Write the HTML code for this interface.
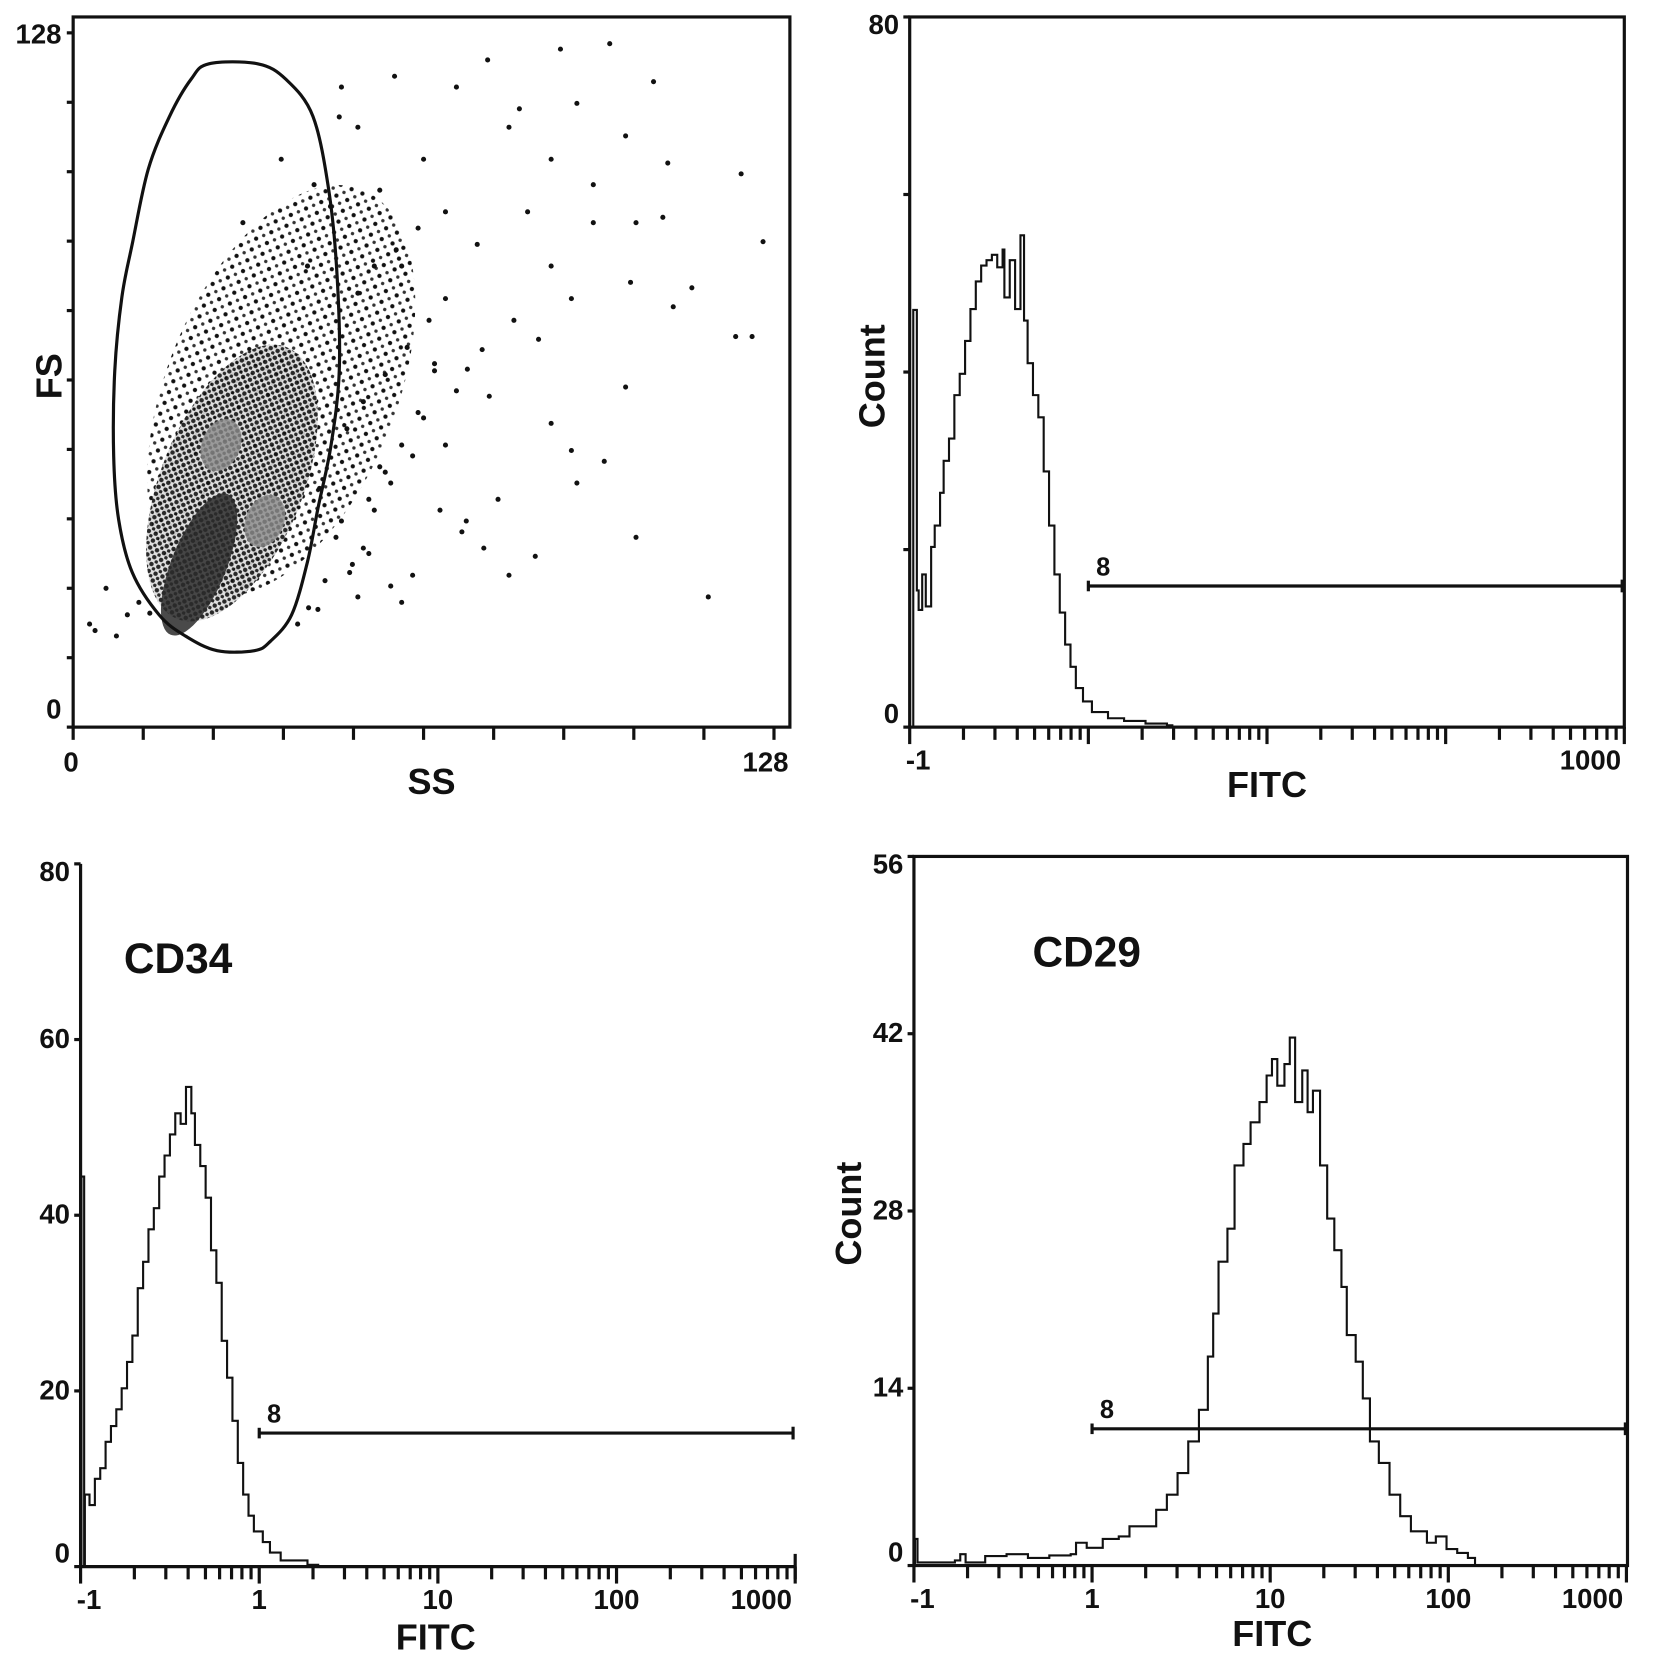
<!DOCTYPE html>
<html><head><meta charset="utf-8"><style>
html,body{margin:0;padding:0;background:#fff}
svg{display:block}
text{font-family:"Liberation Sans",Arial,sans-serif;font-weight:bold;fill:#111}
</style></head><body>
<svg id="fig" width="1654" height="1662" viewBox="0 0 1560 1568" preserveAspectRatio="none" xmlns="http://www.w3.org/2000/svg">
<defs>
<pattern id="dotsLight" width="11" height="11" patternUnits="userSpaceOnUse"><circle cx="2.5" cy="2.5" r="2" fill="#111"/><circle cx="8" cy="8" r="1.6" fill="#333"/></pattern>
<pattern id="dotsDense" width="7" height="7" patternUnits="userSpaceOnUse"><rect width="7" height="7" fill="#ddd"/><circle cx="2" cy="2" r="2.1" fill="#111"/><circle cx="5.5" cy="5.5" r="1.7" fill="#111"/></pattern>
</defs>
<g id="panelA"></g>
<g id="panelB"></g>
<g id="panelC"></g>
<g id="panelD"></g>
</svg>
<script>
// ---------- data ----------
const ssTicks=[0,12.8,25.6,38.4,51.2,64,76.8,89.6,102.4,115.2,128];
const fsTicks=[0,12.8,25.6,38.4,51.2,64,76.8,89.6,102.4,115.2,128];
const axisLabelsA=["0","128"];
const dotSS=[49,58.7,75.7,89,98,81.5,92,106,122,126,121,124,113,109.6,108.6,102.8,101.8,97,92,102.8,116,60,79.6,84.4,87.3,91,100.9,71.8,77.6,70,79.6,87.3,95,95,87.3,80.5,85,74.7,68,64,56,52,48.6,60,68,63,68,56,54,50.5,44.7,66,73.8,83,91,100.9,107.7,38,31,42.8,6,4,7.9,9.9,55,58,62,50,53,57,61,65,52,55,59,63,48,51,54,57,60,64,70,66,45,49,53,72,76,62,58,52,46,43,41,3,12,14,67,71,75,44,47];
const dotFS=[118,120,123,125,126,114,115,119,102,89.5,72,72,81,77.5,104,93,82,49,45,35,24,23,28,31.5,56,51,62.7,38,42,118,110.6,104.7,100,93,85,75,71.5,69.6,95,104.7,99,110.6,112.5,85,79,58,52,48,32,28.5,21.7,65.7,89,95,79,109,94,104.7,93,85,25.6,17.8,16.8,20.7,40,45,50,55,60,65,70,75,80,85,88,92,35,30,42,47,52,57,62,67,44,38,33,66,61,28,26,24,27,22,19,19,23,21,40,36,33,100,96];
const cloudSS=[38,29,23,27,35];
const cloudFS=[62,45,30,52,38];
const cloudRX=[21,13,5,3.5,3.5];
const cloudRY=[40,27,14,5,5];
const cloudLevel=[0,1,2,3,3];
const gateSS=[24.8,33.7,38.9,43.8,46.7,48.2,48.6,47.1,44.7,42.8,39.9,36,33.1,26.3,20.5,15.7,10.8,8.3,7.4,7.6,8.9,10.8,13.7,17.6,21.5];
const gateFS=[122.3,122.3,119.4,112.6,98.9,83.3,65.7,52,40.3,30.5,20.7,15.8,14.1,14.1,16.8,20.7,28.5,38.3,50,65.7,79.3,89.1,102.8,112.6,119.4];

const decadeLabels=["-1","1","10","100","1000"];
const histB_d=[0.01,0.02,0.04,0.05,0.07,0.09,0.12,0.14,0.17,0.19,0.22,0.25,0.28,0.31,0.34,0.37,0.4,0.43,0.46,0.49,0.52,0.53,0.56,0.59,0.62,0.64,0.66,0.69,0.72,0.75,0.78,0.81,0.84,0.87,0.9,0.93,0.97,1.02,1.11,1.2,1.32,1.44,1.47];
const histB_c=[0,47,15.4,13.2,17.2,13.6,20.3,22.7,26.4,30,32.5,37.4,39.8,43.5,47.1,50.2,52,52.6,53.2,51.8,53.8,48.4,52.6,47.1,55.4,45.8,41,37.4,34.9,28.8,22.7,17.2,12.9,9.3,6.8,4.4,2.9,1.7,1,0.7,0.4,0.2,0];
const histC_d=[0,0.005,0.02,0.024,0.05,0.08,0.11,0.14,0.17,0.2,0.23,0.26,0.29,0.32,0.35,0.38,0.41,0.44,0.47,0.5,0.53,0.56,0.59,0.62,0.64,0.67,0.7,0.73,0.76,0.79,0.82,0.85,0.88,0.91,0.94,0.97,1.02,1.06,1.12,1.27,1.33];
const histC_c=[0,44.4,0,8.2,7,10,11.2,14.2,16,17.9,20.3,23.3,26.3,31.7,34.7,38.4,40.8,44.4,46.8,49.2,51.6,50.4,54.6,51.6,48,45.6,42,36,32.3,25.7,21.5,16.6,11.8,8.2,5.8,4,2.8,1.6,0.7,0.2,0];
const histD_d=[0,0.006,0.02,0.23,0.26,0.29,0.4,0.52,0.64,0.76,0.88,0.91,0.97,1.06,1.15,1.21,1.3,1.36,1.42,1.48,1.54,1.6,1.65,1.68,1.71,1.76,1.8,1.85,1.89,1.94,1.98,2.01,2.04,2.08,2.11,2.14,2.18,2.21,2.24,2.28,2.32,2.36,2.4,2.43,2.48,2.52,2.56,2.61,2.67,2.73,2.79,2.88,2.93,2.99,3.05,3.11,3.15];
const histD_c=[0,2.1,0.25,0.4,0.9,0.25,0.75,0.9,0.6,0.8,0.9,1.8,1.4,2.1,2.3,3.1,3.1,4.4,5.6,7.3,9.8,12.3,16.5,19.9,24,26.6,31.6,33.3,35,36.6,38.7,40,37.9,39.6,41.7,36.6,39.1,35.8,37.5,31.6,27.4,24.9,22,18.2,16.1,13.2,9.8,8.1,5.6,3.9,2.7,1.8,2.3,1.3,1,0.6,0];
const yTicksB=[0,20,40,60,80];
const yTicksC=[0,20,40,60,80];
const yTicksD=[0,14,28,42,56];
const gateLevelB=15.9, gateLevelC=15.2, gateLevelD=10.8;

// ---------- helpers ----------
const NS="http://www.w3.org/2000/svg";
function mk(parent,tag,attrs,txt){const e=document.createElementNS(NS,tag);for(const k in attrs)e.setAttribute(k,attrs[k]);if(txt!==undefined)e.textContent=txt;parent.appendChild(e);return e;}
function line(p,x1,y1,x2,y2,w){return mk(p,"line",{x1,y1,x2,y2,stroke:"#111","stroke-width":w||2.5});}
function smoothClosed(pts){
 const n=pts.length;let d=`M${pts[0][0]},${pts[0][1]}`;
 for(let i=0;i<n;i++){const p0=pts[(i-1+n)%n],p1=pts[i],p2=pts[(i+1)%n],p3=pts[(i+2)%n];
  const c1=[p1[0]+(p2[0]-p0[0])/6,p1[1]+(p2[1]-p0[1])/6],c2=[p2[0]-(p3[0]-p1[0])/6,p2[1]-(p3[1]-p1[1])/6];
  d+=`C${c1[0]},${c1[1]} ${c2[0]},${c2[1]} ${p2[0]},${p2[1]}`;}
 return d+"Z";
}

// ---------- panel A ----------
(function(){
 const g=document.getElementById("panelA");
 const L=69,R=745,T=16,B=686,X0=69,X1=730,Y1=31;
 const sx=v=>X0+v*(X1-X0)/128, sy=v=>B-v*(B-Y1)/128;
 const frame=mk(g,"rect",{x:L,y:T,width:R-L,height:B-T,fill:"none",stroke:"#111","stroke-width":3});
 
 
 ssTicks.forEach(t=>{const l=line(g,sx(t),B,sx(t),B+12,3);
  
  });
 fsTicks.forEach(t=>{const l=line(g,L-6,sy(t),L,sy(t),3);
  
  });
 const fills=["url(#dotsLight)","url(#dotsDense)","#2a2a2a","#8a8a8a"];
 const ops=[1,0.9,0.85,0.8];
 cloudSS.forEach((c,i)=>{
  const e=mk(g,"ellipse",{cx:sx(c),cy:sy(cloudFS[i]),rx:cloudRX[i]*5.164,ry:cloudRY[i]*5.117,fill:fills[cloudLevel[i]],opacity:ops[cloudLevel[i]],transform:`rotate(22 ${sx(c)} ${sy(cloudFS[i])})`});
  
  
 });
 dotSS.forEach((s,i)=>{
  const d=mk(g,"circle",{cx:sx(s),cy:sy(dotFS[i]),r:2.4,fill:"#111"});
  
  
 });
 const gpts=gateSS.map((s,i)=>[sx(s),sy(gateFS[i])]);
 const gate=mk(g,"path",{d:smoothClosed(gpts),fill:"none",stroke:"#111","stroke-width":3});
 
 
 const t1=mk(g,"text",{x:58,y:41,"font-size":26,"text-anchor":"end"},"128");
 
 
 const t2=mk(g,"text",{x:58,y:678,"font-size":26,"text-anchor":"end"},"0");
 
 
 const t3=mk(g,"text",{x:67,y:728,"font-size":26,"text-anchor":"middle"},axisLabelsA[0]);
 
 
 const t4=mk(g,"text",{x:722,y:728,"font-size":26,"text-anchor":"middle"},axisLabelsA[1]);
 
 
 const xt=mk(g,"text",{x:407,y:749,"font-size":34,"text-anchor":"middle"},"SS");
 
 
 const yt=mk(g,"text",{x:0,y:0,"font-size":34,"text-anchor":"middle",transform:"translate(58 355) rotate(-90)"},"FS");
 
 
})();

// ---------- histogram builder ----------
function hist(id,o){
 const g=document.getElementById(id);
 const sx=d=>o.x0+d*o.dec, sy=c=>o.B-c*(o.B-o.T)/o.ymax;
 if(o.box){const f=mk(g,"rect",{x:o.x0,y:o.T,width:o.R-o.x0,height:o.B-o.T,fill:"none",stroke:"#111","stroke-width":3});
  
  }
 else{const a=line(g,o.x0,o.T,o.x0,o.B,3);
  
  
  const b=line(g,o.x0,o.B,o.R,o.B,3);
  
  
  const e=line(g,o.R,o.B-12,o.R,o.B+12,3);
  
  }
 for(let dcd=0;dcd<4;dcd++){for(let k=1;k<=9;k++){const x=sx(dcd+Math.log10(k));
  const l=line(g,x,o.B,x,o.B+(k===1?16:12),3);
  
  }}
 const le=line(g,sx(4),o.B,sx(4),o.B+16,3);
 
 
 decadeLabels.forEach((lab,i)=>{
  if(o.onlyEnds&&i!==0&&i!==4)return;
  let x=sx(i); if(i===0)x+=8; if(i===4)x-=32;
  const t=mk(g,"text",{x:x,y:o.B+40,"font-size":26,"text-anchor":"middle"},lab);
  
  
 });
 o.yt.forEach(v=>{const l=line(g,o.x0-6,sy(v),o.x0,sy(v),3);
  
  
  if(o.showAll||v===0||v===o.ymax){
   const t=mk(g,"text",{x:o.x0-10,y:sy(v)+(v===o.ymax?16:(v===0?-4:8)),"font-size":26,"text-anchor":"end"},String(v));
   
   }
 });
 let dpath="";
 o.d.forEach((d,i)=>{const x=sx(d),y=sy(o.c[i]);
  if(i===0)dpath+=`M${x},${y}`;else{dpath+=`H${x}V${y}`;}});
 const p=mk(g,"path",{d:dpath,fill:"none",stroke:"#111","stroke-width":2});
 
 
 const gy=sy(o.gate);
 const gl=line(g,sx(1),gy,o.R-2,gy,3);
 
 
 const ge1=line(g,sx(1),gy-5,sx(1),gy+5,3);
 
 
 const ge2=line(g,o.R-2,gy-6,o.R-2,gy+6,3);
 
 
 const gt=mk(g,"text",{x:sx(1)+14,y:gy-10,"font-size":24,"text-anchor":"middle"},"8");
 
 
 const xt=mk(g,"text",{x:o.xtx,y:o.xty,"font-size":34,"text-anchor":"middle"},"FITC");
 
 
 if(o.count){const yt=mk(g,"text",{x:0,y:0,"font-size":34,"text-anchor":"middle",transform:`translate(${o.count[0]} ${o.count[1]}) rotate(-90)`},"Count");
  
  }
 if(o.title){const tt=mk(g,"text",{x:o.title[1],y:o.title[2],"font-size":40,"text-anchor":"middle"},o.title[0]);
  
  }
}
hist("panelB",{x0:858,dec:168.5,R:1532,T:16,B:686,ymax:80,yt:yTicksB,showAll:false,onlyEnds:true,d:histB_d,c:histB_c,gate:gateLevelB,box:true,xtx:1195,xty:752,count:[834,355]});
hist("panelC",{x0:76,dec:168.5,R:750,T:815,B:1478,ymax:80,yt:yTicksC,showAll:true,d:histC_d,c:histC_c,gate:gateLevelC,box:false,xtx:411,xty:1556,title:["CD34",168,918]});
hist("panelD",{x0:862,dec:168,R:1535,T:808,B:1477,ymax:56,yt:yTicksD,showAll:true,d:histD_d,c:histD_c,gate:gateLevelD,box:true,xtx:1200,xty:1553,count:[812,1145],title:["CD29",1025,912]});
</script>
</body></html>
